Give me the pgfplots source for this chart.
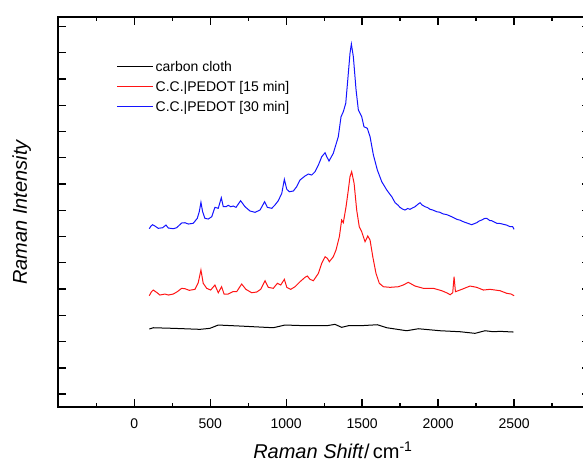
\documentclass[border=0pt]{standalone}
\usepackage{pgfplots}
\pgfplotsset{compat=1.18}
\usepackage{fontspec}
\setmainfont{Liberation Sans}
\definecolor{cblue}{RGB}{20,20,255}
\definecolor{cred}{RGB}{255,20,20}
\begin{document}
\begin{tikzpicture}
\begin{axis}[
  name=ax,
  scale only axis,
  width=398.8pt, height=292.5pt,
  xmin=-500, xmax=3000, ymin=0, ymax=390,
  axis line style={line width=1.2pt},
  xtick={0,500,1000,1500,2000,2500},
  minor xtick={-250,250,750,1250,1750,2250,2750},
  ytick={13,39.2,65.5,91.7,118,144.2,170.5,196.7,223,249.2,275.5,301.7,328,354.2,380.5},
  yticklabels={},
  major tick length=6pt, minor tick length=3pt,
  every tick/.style={line width=1pt, black},
  /pgf/number format/assume math mode=true,
  /pgf/number format/set thousands separator={},
  tick label style={font=\fontsize{10.5}{12}\selectfont},
  xticklabel style={yshift=-5.5pt},
  xlabel={\textit{Raman Shift}/\,cm\textsuperscript{-1}},
  ylabel={\textit{Raman Intensity}},
  xlabel style={font=\fontsize{15}{17}\selectfont, xshift=6.6pt, yshift=-3pt},
  ylabel style={font=\fontsize{15}{17}\selectfont, yshift=10pt},
  legend style={at={(axis description cs:0.11,0.895)}, anchor=north west, draw=none, fill=none,
    font=\fontsize{10.5}{12}\selectfont, row sep=2pt, inner sep=0pt},
  legend cell align=left,
]
\addlegendimage{legend image code/.code={\node[inner sep=0pt, anchor=west] at (0pt,0pt) {\color{black}\rule[-0.375pt]{27pt}{0.75pt}};}}
\addlegendentry{carbon cloth}
\addlegendimage{legend image code/.code={\node[inner sep=0pt, anchor=west] at (0pt,0pt) {\color{cred}\rule[-0.375pt]{27pt}{0.75pt}};}}
\addlegendentry{C.C.{\textbar}PEDOT {[}15 min{]}}
\addlegendimage{legend image code/.code={\node[inner sep=0pt, anchor=west] at (0pt,0pt) {\color{cblue}\rule[-0.375pt]{27pt}{0.75pt}};}}
\addlegendentry{C.C.{\textbar}PEDOT {[}30 min{]}}
\addplot[black, line width=0.75pt, forget plot] coordinates {
(99,78) (125,79.3) (257,78.7) (433,77.7) (498,78.7) (553,82) (696,81) (915,79.3) (992,82)
(1135,81.3) (1267,81.3) (1321,82.7) (1365,79.7) (1409,81.3) (1486,81.3) (1600,82.3)
(1662,79.3) (1793,76.3) (1870,78.3) (2013,76.3) (2145,75.3) (2243,73.7) (2309,76.3)
(2364,75.3) (2408,75.7) (2496,75)
};
\addplot[cred, line width=0.75pt, forget plot] coordinates {
(99,111.3) (112,115) (125,117) (147,114.7) (169,112) (202,113) (224,112) (257,113) (283,115.3)
(312,118.7) (334,118.3) (362,116.7) (400,117.7) (421,124.3) (439,137) (454,123.7) (477,118.7)
(503,117) (531,122) (553,114.3) (575,120.3) (591,113) (619,113) (648,115.3) (674,115.3)
(707,123) (735,117.7) (773,114.3) (806,115) (832,117.7) (861,126.3) (882,119.7) (915,118.7)
(942,123.7) (964,122) (988,127.7) (1004,119.7) (1030,117.7) (1058,120.3) (1091,125.3)
(1124,129.7) (1139,131) (1157,127.7) (1179,126.3) (1212,133.7) (1234,143.7) (1256,150.3)
(1271,148.7) (1284,145.3) (1310,150.3) (1328,157) (1350,170.3) (1365,187) (1376,184.3)
(1394,200.3) (1409,217) (1420,230.3) (1431,235.3) (1447,223.7) (1464,197) (1481,180.3)
(1497,175.3) (1519,165.3) (1537,171) (1552,167) (1570,150.3) (1591,133.7) (1613,123.7)
(1640,120.3) (1684,119.7) (1738,120.3) (1770,122) (1804,124.7) (1848,121) (1903,118.7)
(1969,118.7) (2024,116.3) (2060,114) (2079,112.3) (2096,114.3) (2105,130.3) (2114,115.3)
(2156,117.7) (2210,121) (2254,119.7) (2298,117) (2342,117.7) (2408,116.3) (2452,113.7)
(2480,113) (2500,111.3)
};
\addplot[cblue, line width=0.75pt, forget plot] coordinates {
(99,178.3) (110,181) (121,182.3) (136,181) (158,178.7) (187,179.3) (209,182) (224,179)
(257,178.3) (279,179.3) (312,184) (334,184.3) (356,183) (388,183.7) (415,188.7) (428,195.3)
(439,204.7) (450,195.3) (465,188.7) (487,188) (510,190.3) (531,199.7) (553,198.7) (573,209.3)
(586,200.3) (604,200.3) (619,201.7) (635,200.3) (652,201) (670,199.7) (700,206.3) (729,200.3)
(762,196) (795,194.7) (828,197) (858,205.3) (876,199.7) (905,198.7) (926,202) (948,206.3)
(971,213.7) (988,227.7) (1004,217.7) (1021,215.3) (1047,216) (1069,220.3) (1091,227)
(1124,231) (1146,233) (1168,232) (1190,235.3) (1212,242) (1234,250.3) (1256,254.3)
(1267,250.3) (1282,246) (1310,253.7) (1343,270.3) (1361,290.3) (1376,295.3) (1392,303.7)
(1409,333.7) (1420,353.7) (1429,363) (1442,350.3) (1460,317) (1475,297) (1497,290.3)
(1512,280.3) (1534,278.7) (1552,270.3) (1574,252) (1600,237) (1629,225.3) (1662,217)
(1695,210.3) (1717,204.3) (1735,202) (1749,199.7) (1765,198) (1782,197) (1800,198.5)
(1815,197.7) (1830,199) (1848,200.3) (1865,202.5) (1881,204.3) (1895,202) (1914,200.3)
(1930,199.5) (1947,197.7) (1965,197) (1991,195.3) (2010,194.8) (2035,193) (2055,192.5)
(2079,191) (2100,189.5) (2123,187.7) (2145,186.8) (2166,185.3) (2190,184) (2221,182.3)
(2240,183.5) (2254,184.3) (2270,186) (2287,187) (2305,188.5) (2320,188.7) (2340,186.5)
(2353,186.3) (2370,185) (2386,183.7) (2410,183.5) (2430,182.7) (2450,182) (2474,180.3)
(2490,180.5) (2500,177.7)
};
\end{axis}
\pgfresetboundingbox
\path[use as bounding box] ([xshift=-43.7pt,yshift=-40.5pt]ax.south west) rectangle ([xshift=393.5pt,yshift=305.25pt]ax.south west);
\end{tikzpicture}
\end{document}
